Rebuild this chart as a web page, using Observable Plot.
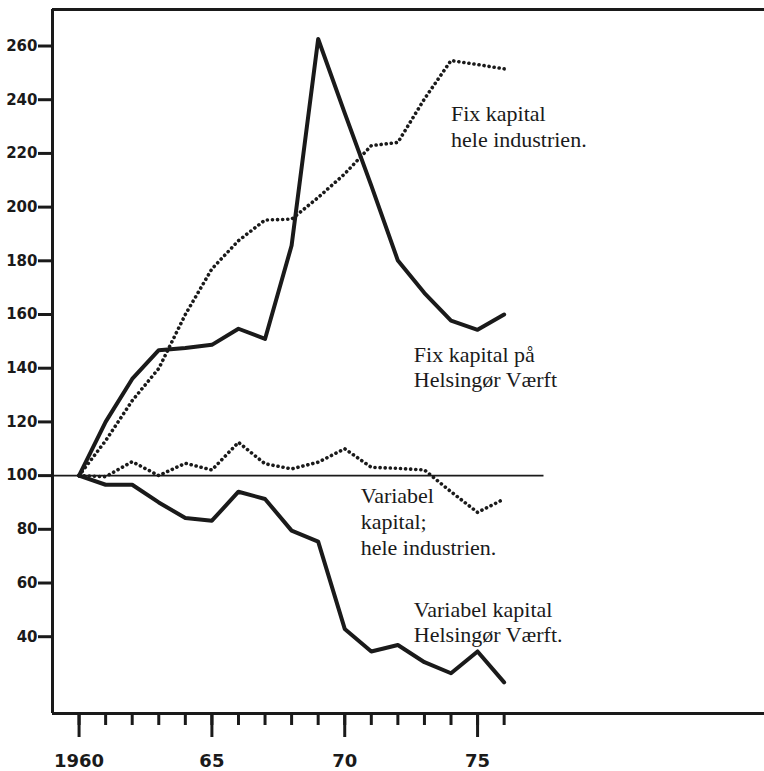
<!DOCTYPE html>
<html>
<head>
<meta charset="utf-8">
<script src="https://cdn.jsdelivr.net/npm/d3@7"></script>
<script src="https://cdn.jsdelivr.net/npm/@observablehq/plot@0.6"></script>
<style>
  html, body { margin: 0; padding: 0; background: #fff; }
  #chart { width: 764px; height: 771px; }
</style>
</head>
<body>
<div id="chart"></div>
<script>
const years = [1960,1961,1962,1963,1964,1965,1966,1967,1968,1969,1970,1971,1972,1973,1974,1975,1976];
const fixVaerft = [100,120,136,146.7,147.5,148.7,154.7,150.9,185.7,262.6,235,208,180.1,168,157.7,154.3,160];
const varVaerft = [100,96.6,96.6,90,84.2,83.2,94.0,91.3,79.5,75.4,42.9,34.5,36.9,30.5,26.4,34.5,23.0];
const fixInd = [100,113,127.9,139.9,160,177,187.5,195.2,195.5,203.6,212.4,222.9,224.1,240.3,254.6,253.1,251.5];
const varInd = [100,99.6,105.2,100,104.6,102.1,112.4,104.4,102.5,105,110,103.1,102.7,102.1,94,86.3,91.3];

const yTicks = [40,60,80,100,120,140,160,180,200,220,240,260];
const xMajorTicks = [1960,1965,1970,1975];
const xMajorLabels = ["1960","65","70","75"];
const xDomain = [1959, 1985.8];
const yDomain = [11.4, 273.6];
const baseLevel = 100;
const baseEnd = 1977.5;

const labelTexts = ["Fix kapital\nhele industrien.", "Fix kapital på\nHelsingør Værft", "Variabel\nkapital;\nhele industrien.", "Variabel kapital\nHelsingør Værft."];
const labelYears = [1974.0, 1972.6, 1970.6, 1972.6];
const labelValues = [238.7, 149.3, 96.5, 54.3];

const ink = "#1a1a1a";

const toRows = (vals) => years.map((yr, i) => ({year: yr, value: vals[i]}));
const labels = labelTexts.map((t, i) => ({text: t, year: labelYears[i], value: labelValues[i]}));

const solid = {x: "year", y: "value", stroke: ink, strokeWidth: 4, strokeLinejoin: "round", strokeLinecap: "round"};
const dotted = {x: "year", y: "value", stroke: ink, strokeWidth: 3.6, strokeLinecap: "round", strokeDasharray: "0.1,5"};

const chart = Plot.plot({
  width: 764,
  height: 771,
  marginLeft: 52,
  marginRight: 0,
  marginTop: 9,
  marginBottom: 58,
  style: {background: "#fff", color: ink, fontFamily: "DejaVu Sans", fontWeight: "bold"},
  x: {domain: xDomain, label: null},
  y: {domain: yDomain, label: null},
  marks: [
    Plot.ruleY([baseLevel], {x1: xDomain[0], x2: baseEnd, stroke: ink, strokeWidth: 1.6}),
    Plot.line(toRows(fixInd), dotted),
    Plot.line(toRows(varInd), dotted),
    Plot.line(toRows(fixVaerft), solid),
    Plot.line(toRows(varVaerft), solid),
    Plot.ruleY([yDomain[1]], {stroke: ink, strokeWidth: 3}),
    Plot.ruleY([yDomain[0]], {stroke: ink, strokeWidth: 3}),
    Plot.ruleX([xDomain[0]], {stroke: ink, strokeWidth: 3}),
    Plot.axisY({ticks: yTicks, label: null, tickSize: 14, tickPadding: 1, strokeWidth: 3, stroke: ink, fontSize: 15, fontWeight: "bold", fontFamily: "DejaVu Sans", tickFormat: d => String(d)}),
    Plot.axisX({ticks: years, label: null, tickSize: 12, strokeWidth: 3, stroke: ink, tickFormat: () => ""}),
    Plot.axisX({ticks: xMajorTicks, label: null, tickSize: 24, tickPadding: 17, strokeWidth: 3, stroke: ink, fontSize: 18, fontWeight: "bold", fontFamily: "DejaVu Sans", tickFormat: d => xMajorLabels[xMajorTicks.indexOf(d)]}),
    Plot.text(labels, {x: "year", y: "value", text: "text", textAnchor: "start", lineAnchor: "top", lineHeight: 1.17, fontSize: 22, fontWeight: "normal", fontFamily: "Liberation Serif", fill: ink})
  ]
});
document.getElementById("chart").appendChild(chart);
</script>
</body>
</html>
